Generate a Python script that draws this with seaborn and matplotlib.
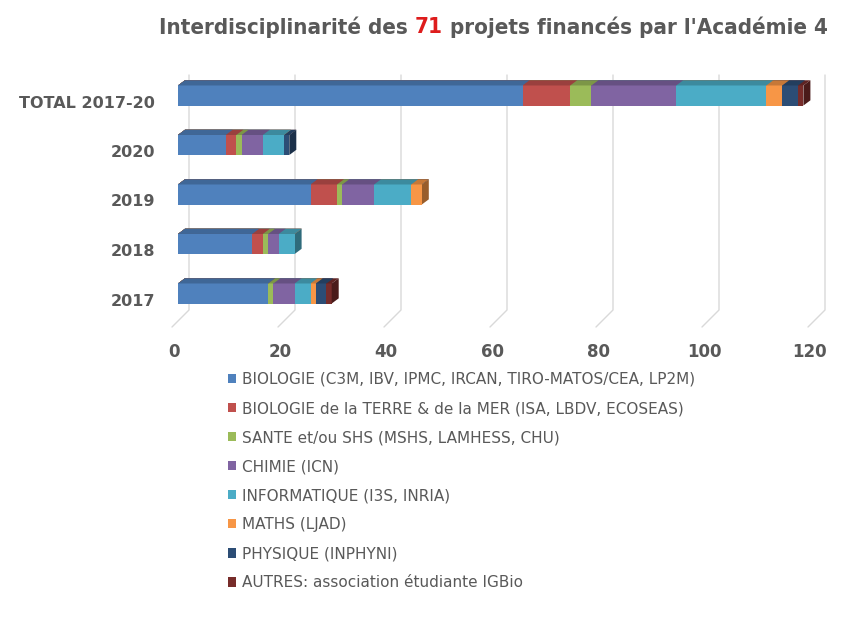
import numpy as np
import pandas as pd
import matplotlib
matplotlib.use("Agg")
import matplotlib.pyplot as plt
import matplotlib.colors as mcolors
from matplotlib.patches import Polygon, Patch
from matplotlib.transforms import ScaledTranslation, IdentityTransform
from matplotlib import font_manager
import seaborn as sns

# ---------------- data ----------------
years = ["2017", "2018", "2019", "2020"]
total_label = "TOTAL 2017-20"
series_names = [
    "BIOLOGIE (C3M, IBV, IPMC, IRCAN, TIRO-MATOS/CEA, LP2M)",
    "BIOLOGIE de la TERRE & de la MER (ISA, LBDV, ECOSEAS)",
    "SANTE et/ou SHS (MSHS, LAMHESS, CHU)",
    "CHIMIE (ICN)",
    "INFORMATIQUE (I3S, INRIA)",
    "MATHS (LJAD)",
    "PHYSIQUE (INPHYNI)",
    "AUTRES: association étudiante IGBio",
]
biologie = [17, 14, 25, 9]
bio_terre_mer = [0, 2, 5, 2]
sante_shs = [1, 1, 1, 1]
chimie = [4, 2, 6, 4]
informatique = [3, 3, 7, 4]
maths = [1, 0, 2, 0]
physique = [2, 0, 0, 1]
autres = [1, 0, 0, 0]
xticks = [0, 20, 40, 60, 80, 100, 120]
title_parts = ["Interdisciplinarité des ", "71", " projets financés par l'Académie 4"]

colors = ["#4F81BD", "#C0504D", "#9BBB59", "#8064A2",
          "#4BACC6", "#F79646", "#2C4D75", "#772C2A"]
GRAY = "#595959"

series = [biologie, bio_terre_mer, sante_shs, chimie,
          informatique, maths, physique, autres]
rows = [total_label] + years[::-1]
table = pd.DataFrame(np.array(series).T, index=years, columns=series_names)
table.loc[total_label] = table.sum()
table = table.loc[rows]
cum = table.cumsum(axis=1)
last_nz = [max(i for i, v in enumerate(table.loc[r].values) if v > 0) for r in rows]

# ---------------- figure ----------------
sns.set_theme(style="white")
plt.rcParams['font.family'] = ['DejaVu Sans']
W, H = 861, 623
fig = plt.figure(figsize=(W / 100, H / 100), dpi=100)
fig.patch.set_facecolor("white")
PXU = 5.3  # pixels per unit
ax = fig.add_axes([178 / W, 1 - 318.25 / H, 120 * PXU / W, 247.5 / H])
ax.patch.set_alpha(0)

dx = 7 / PXU
dy = 0.105


def darker(c, f):
    r, g, b = mcolors.to_rgb(c)
    return (r * f, g * f, b * f)


for k in reversed(range(len(series))):
    n0 = len(ax.patches)
    df = pd.DataFrame({"row": rows, "x": cum.iloc[:, k].values})
    sns.barplot(data=df, x="x", y="row", order=rows, orient="h",
                color=colors[k], saturation=1, width=0.405,
                errorbar=None, ax=ax, linewidth=0)
    new = list(ax.patches[n0:])
    for i, p in enumerate(new):
        x0, y0, w, h = p.get_x(), p.get_y(), p.get_width(), p.get_height()
        if w <= 0:
            continue
        top = Polygon([(x0, y0), (x0 + w, y0), (x0 + w + dx, y0 - dy), (x0 + dx, y0 - dy)],
                      closed=True, facecolor=darker(colors[k], 0.8), edgecolor="none",
                      clip_on=False)
        ax.add_patch(top)
        if k == len(series) - 1:
            sc = darker(colors[last_nz[i]], 0.62)
            side = Polygon([(x0 + w, y0), (x0 + w + dx, y0 - dy),
                            (x0 + w + dx, y0 + h - dy), (x0 + w, y0 + h)],
                           closed=True, facecolor=sc, edgecolor="none", clip_on=False)
            ax.add_patch(side)

ax.set_xlim(0, 120)
ax.set_ylim(len(rows) - 0.5, -0.5)
ax.set_xlabel("")
ax.set_ylabel("")
ax.grid(False)
for s in ax.spines.values():
    s.set_visible(False)
ax.set_xticks(xticks)
ax.set_xticklabels([str(t) for t in xticks])
ax.tick_params(axis="x", length=0, pad=18, labelsize=12, labelcolor=GRAY)
ax.tick_params(axis="y", length=0, pad=16.5, labelsize=11.5, labelcolor=GRAY)
for lbl in ax.get_xticklabels():
    lbl.set_fontweight("bold")
    lbl.set_transform(lbl.get_transform() + ScaledTranslation(-0.04, 0, fig.dpi_scale_trans))
for lbl in ax.get_yticklabels():
    lbl.set_fontweight("bold")
    lbl.set_transform(lbl.get_transform() + ScaledTranslation(0, -0.06, fig.dpi_scale_trans))

# 3D-like gridlines (back wall + floor)
for t in xticks:
    xp = ax.transData.transform((t, 0))[0]
    ax.plot([xp + 11, xp + 11, xp - 6], [H - 75, H - 310, H - 327],
            transform=IdentityTransform(), color="#D9D9D9", lw=1,
            clip_on=False, zorder=0.5)

# ---------------- title ----------------
renderer = fig.canvas.get_renderer()
tsize = 17
tcolors = [GRAY, "#DE1C1C", GRAY]
texts = [fig.text(0, 1 - 27 / H, s, fontsize=tsize, fontweight="bold",
                  family="DejaVu Sans", fontstretch="condensed",
                  color=c, va="center", ha="left") for s, c in zip(title_parts, tcolors)]
widths = [t.get_window_extent(renderer).width for t in texts]
scale = 668 / sum(widths)
for t in texts:
    t.set_fontsize(tsize * scale)
widths = [t.get_window_extent(renderer).width for t in texts]
xcur = 159
for t, w in zip(texts, widths):
    t.set_x(xcur / W)
    xcur += w

# ---------------- legend ----------------
handles = [Patch(facecolor=c, edgecolor="none") for c in colors]
fig.legend(handles, series_names, loc="upper left",
           bbox_to_anchor=(228 / W, 1 - 372 / H), frameon=False,
           fontsize=11, labelcolor=GRAY, handlelength=0.55, handleheight=0.55,
           handletextpad=0.35, labelspacing=0.92, borderpad=0, borderaxespad=0)

fig.savefig("out.png", dpi=100, facecolor="white")
